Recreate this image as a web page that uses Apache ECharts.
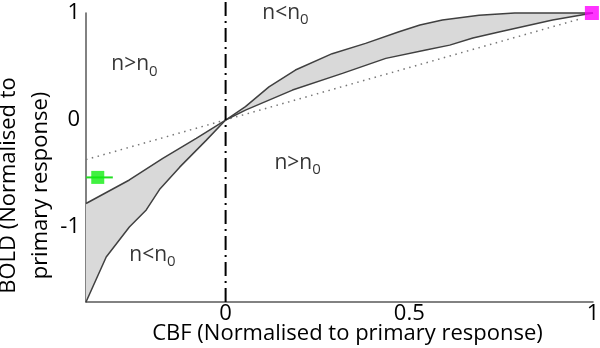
<!DOCTYPE html>
<html>
<head>
<meta charset="utf-8">
<script src="https://cdn.jsdelivr.net/npm/echarts@6/dist/echarts.min.js"></script>
<style>
html, body { margin: 0; padding: 0; background: #fff; }
#chart { width: 600px; height: 348px; }
</style>
</head>
<body>
<div id="chart"></div>
<script>
// curve A: steep branch below 0, upper edge of band above 0
const curveAX = [-0.38, -0.325, -0.262, -0.216, -0.18, -0.125, -0.053, 0, 0.054, 0.118, 0.19, 0.29, 0.381, 0.472, 0.529, 0.59, 0.69, 0.787, 0.9, 1.0];
const curveAY = [-1.70, -1.28, -1.00, -0.84, -0.65, -0.44, -0.19, 0, 0.125, 0.31, 0.467, 0.62, 0.716, 0.825, 0.888, 0.935, 0.98, 1.0, 1.0, 1.0];
// curve B: shallow branch below 0, lower edge of band above 0
const curveBX = [-0.38, -0.262, -0.171, -0.080, 0, 0.054, 0.182, 0.318, 0.436, 0.545, 0.61, 0.673, 0.747, 0.89, 1.0];
const curveBY = [-0.78, -0.56, -0.358, -0.171, 0, 0.093, 0.28, 0.436, 0.576, 0.654, 0.70, 0.766, 0.825, 0.935, 1.0];
// dotted reference line
const refX = [-0.38, 0.97];
const refY = [-0.37, 0.95];
// measured points
const greenPoint = [-0.348, -0.536];
const greenErr = [-0.38, -0.307];
const magentaPoint = [0.997, 1.0];
// region labels
const regionLabels = [
  [-0.248, 0.52, 'n>n'],
  [0.163, 1.0, 'n<n'],
  [0.196, -0.40, 'n>n'],
  [-0.199, -1.26, 'n<n']
];
const xTicks = [0, 0.5, 1];
const yTicks = [-1, 0, 1];

const font = 'Open Sans';
const zip = (xs, ys) => xs.map((x, i) => [x, ys[i]]);

const chart = echarts.init(document.getElementById('chart'));
const option = {
  animation: false,
  textStyle: { fontFamily: font },
  grid: { left: 86, right: 7, top: 13, bottom: 46, outerBoundsMode: 'none' },
  xAxis: {
    type: 'value',
    min: -0.38,
    max: 1,
    name: 'CBF (Normalised to primary response)',
    nameLocation: 'middle',
    nameGap: 21,
    nameMoveOverlap: false,
    nameTextStyle: { fontSize: 22, color: '#000', fontFamily: font, padding: [0, 0, 0, 16] },
    axisLine: { onZero: false, lineStyle: { color: '#595959', width: 1.5 } },
    axisTick: { show: false },
    splitLine: { show: false },
    axisLabel: { customValues: xTicks, fontSize: 22, color: '#000', margin: 1 }
  },
  yAxis: {
    type: 'value',
    min: -1.7,
    max: 1,
    name: 'BOLD (Normalised to\nprimary response)',
    nameLocation: 'middle',
    nameRotate: 90,
    nameGap: 29,
    nameMoveOverlap: false,
    nameTextStyle: { fontSize: 22, lineHeight: 32, color: '#000', fontFamily: font, padding: [0, 56, 0, 0] },
    axisLine: { onZero: false, lineStyle: { color: '#595959', width: 1.5 } },
    axisTick: { show: false },
    splitLine: { show: false },
    axisLabel: { customValues: yTicks, fontSize: 22, color: '#000', margin: 6 }
  },
  series: [
    {
      type: 'custom',
      silent: true,
      z: 1,
      data: [[0, 0]],
      renderItem: function (params, api) {
        const pts = [];
        for (let i = 0; i < curveAX.length; i++) pts.push(api.coord([curveAX[i], curveAY[i]]));
        for (let i = curveBX.length - 1; i >= 0; i--) pts.push(api.coord([curveBX[i], curveBY[i]]));
        return { type: 'polygon', shape: { points: pts }, style: { fill: '#d9d9d9' } };
      }
    },
    {
      type: 'line',
      data: zip(refX, refY),
      symbol: 'none',
      z: 2,
      lineStyle: { color: '#777', width: 1.5, type: [1.5, 4.5] }
    },
    {
      type: 'line',
      data: zip(curveAX, curveAY),
      symbol: 'none',
      z: 3,
      clip: false,
      lineStyle: { color: '#404040', width: 1.5 }
    },
    {
      type: 'line',
      data: zip(curveBX, curveBY),
      symbol: 'none',
      z: 3,
      clip: false,
      lineStyle: { color: '#404040', width: 1.5 }
    },
    {
      // x = 0 dash-dot divider, runs past the top of the plot
      type: 'line',
      data: [[0, -1.7], [0, 1.12]],
      symbol: 'none',
      clip: false,
      z: 4,
      lineStyle: { color: '#000', width: 2, type: [14, 5, 2, 5] }
    },
    {
      type: 'line',
      data: [[greenErr[0], greenPoint[1]], [greenErr[1], greenPoint[1]]],
      symbol: 'none',
      z: 5,
      lineStyle: { color: '#22dd22', width: 2 }
    },
    {
      type: 'scatter',
      data: [greenPoint],
      symbol: 'rect',
      symbolSize: 13,
      clip: false,
      z: 6,
      itemStyle: { color: '#11ee11' }
    },
    {
      type: 'scatter',
      data: [magentaPoint],
      symbol: 'rect',
      symbolSize: 14,
      clip: false,
      z: 6,
      itemStyle: { color: '#ff00ff' }
    },
    {
      type: 'scatter',
      data: regionLabels,
      symbolSize: 0,
      clip: false,
      z: 7,
      label: {
        show: true,
        position: 'inside',
        formatter: (p) => '{a|' + p.data[2] + '}{s|0}',
        rich: {
          a: { fontSize: 21, color: '#000', fontFamily: font },
          s: { fontSize: 15, color: '#000', fontFamily: font, padding: [14, 0, 0, 0] }
        }
      }
    }
  ]
};
chart.setOption(option);
</script>
</body>
</html>
